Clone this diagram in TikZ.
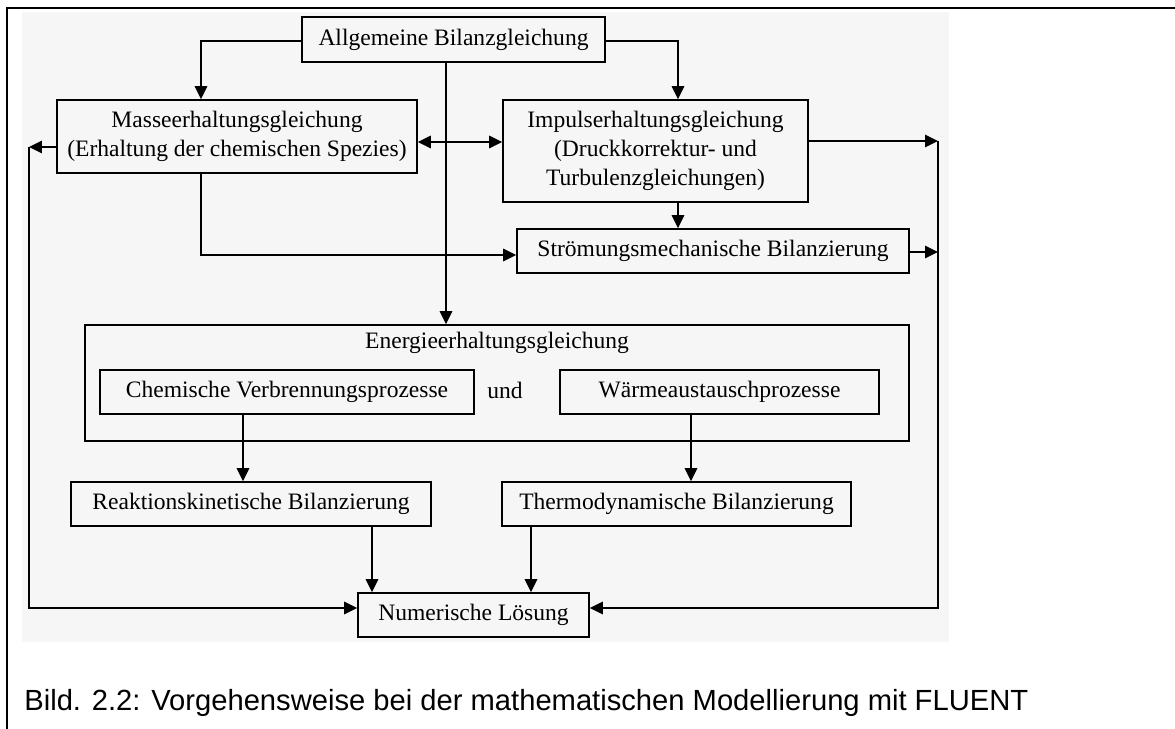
\documentclass[tikz,border=0pt]{standalone}
\usepackage{fontspec}
\setmainfont{Liberation Serif}
\newfontfamily\capfont{Liberation Sans}
\usepackage{tikz}
\usetikzlibrary{positioning,calc,arrows.meta}
\definecolor{scanbg}{gray}{0.965}

\begin{document}
\begin{tikzpicture}[
      x=0.02cm, y=-0.02cm,
      box/.style={rectangle, draw=black, line width=1pt, inner sep=0pt, align=center, font=\fontsize{13.4}{16.5}\selectfont},
      arrow/.style={-{Triangle[length=0.26cm, width=0.25cm]}, line width=0.95pt},
      dblarrow/.style={{Triangle[length=0.26cm, width=0.25cm]}-{Triangle[length=0.26cm, width=0.25cm]}, line width=0.95pt},
      frame/.style={line width=1.7pt},
      caption/.style={font=\capfont\fontsize{16.6}{19}\selectfont, inner sep=0pt},
    ]
    \useasboundingbox (0,0) rectangle (1175,729);
    \fill [scanbg] (22,12) rectangle (949,642);
    \draw [frame] (1175,8) -- (7,8) -- (7,729);
    % Bilanzgleichungen (top rows)
    \node [box, minimum width=303*0.02cm, minimum height=45*0.02cm] (allg) at (453.5,39.5) {Allgemeine Bilanzgleichung};
    \node [box, minimum width=360*0.02cm, minimum height=73*0.02cm] (masse) at (237,136.5) {Masseerhaltungsgleichung\\(Erhaltung der chemischen Spezies)};
    \node [box, minimum width=305*0.02cm, minimum height=102*0.02cm] (impuls) at (655.5,151) {Impulserhaltungsgleichung\\(Druckkorrektur- und\\Turbulenzgleichungen)};
    \node [box, minimum width=392*0.02cm, minimum height=44*0.02cm] (stroem) at (713,251) {Strömungsmechanische Bilanzierung};
    % Energieerhaltung (middle)
    \node [box, minimum width=824*0.02cm, minimum height=116*0.02cm] (energie) at (497,383) {};
    \node [box, draw=none] (energietxt) at (497,343) {Energieerhaltungsgleichung};
    \node [box, minimum width=374*0.02cm, minimum height=44*0.02cm] (chem) at (287,392) {Chemische Verbrennungsprozesse};
    \node [box, draw=none] (und) at (505,390) {und};
    \node [box, minimum width=319*0.02cm, minimum height=44*0.02cm] (waerme) at (719.5,392) {Wärmeaustauschprozesse};
    % Bilanzierung and Lösung (bottom rows)
    \node [box, minimum width=360*0.02cm, minimum height=44*0.02cm] (reakt) at (251,504) {Reaktionskinetische Bilanzierung};
    \node [box, minimum width=349*0.02cm, minimum height=44*0.02cm] (thermo) at (676.5,504) {Thermodynamische Bilanzierung};
    \node [box, minimum width=231*0.02cm, minimum height=44*0.02cm] (numer) at (473.5,615) {Numerische Lösung};
    \coordinate (lbus) at (29,147);
    \coordinate (rbus) at (938,141);
    % connectors
    \draw [arrow] ($(allg.west)+(0,1.5)$) -| ($(masse.north)+(-36,0)$);
    \draw [arrow] ($(allg.east)+(0,1.5)$) -| ($(impuls.north)+(22.5,0)$);
    \draw [arrow] ($(allg.south)+(-7.5,0)$) coordinate (ac) -- (ac |- energie.north);
    \draw [dblarrow] ($(masse.east)+(0,5.5)$) coordinate (mi) -- (mi -| impuls.west);
    \draw [arrow] ($(masse.south)+(-36,0)$) |- ($(stroem.west)+(0,4)$);
    \draw [arrow] ($(impuls.south)+(22.5,0)$) coordinate (is) -- (is |- stroem.north);
    \draw [arrow] (masse.west |- lbus) -- (lbus);
    \draw [arrow] (lbus) |- ($(numer.west)+(0,-7)$);
    \draw [arrow] (impuls.east |- rbus) -- (rbus);
    \draw [arrow] ($(stroem.east)+(0,1)$) coordinate (se) -- (se -| rbus);
    \draw [arrow] (rbus) |- ($(numer.east)+(0,-7)$);
    \draw [arrow] ($(chem.south)+(-44,0)$) coordinate (cs) -- (cs |- reakt.north);
    \draw [arrow] ($(waerme.south)+(-28.5,0)$) coordinate (ws) -- (ws |- thermo.north);
    \draw [arrow] ($(reakt.south)+(121,0)$) coordinate (rs) -- (rs |- numer.north);
    \draw [arrow] ($(thermo.south)+(-145.5,0)$) coordinate (ts) -- (ts |- numer.north);
    \node [caption, anchor=base west] (cap) at (24,710) {Bild. 2.2: Vorgehensweise bei der mathematischen Modellierung mit FLUENT};
  \end{tikzpicture}
\end{document}
